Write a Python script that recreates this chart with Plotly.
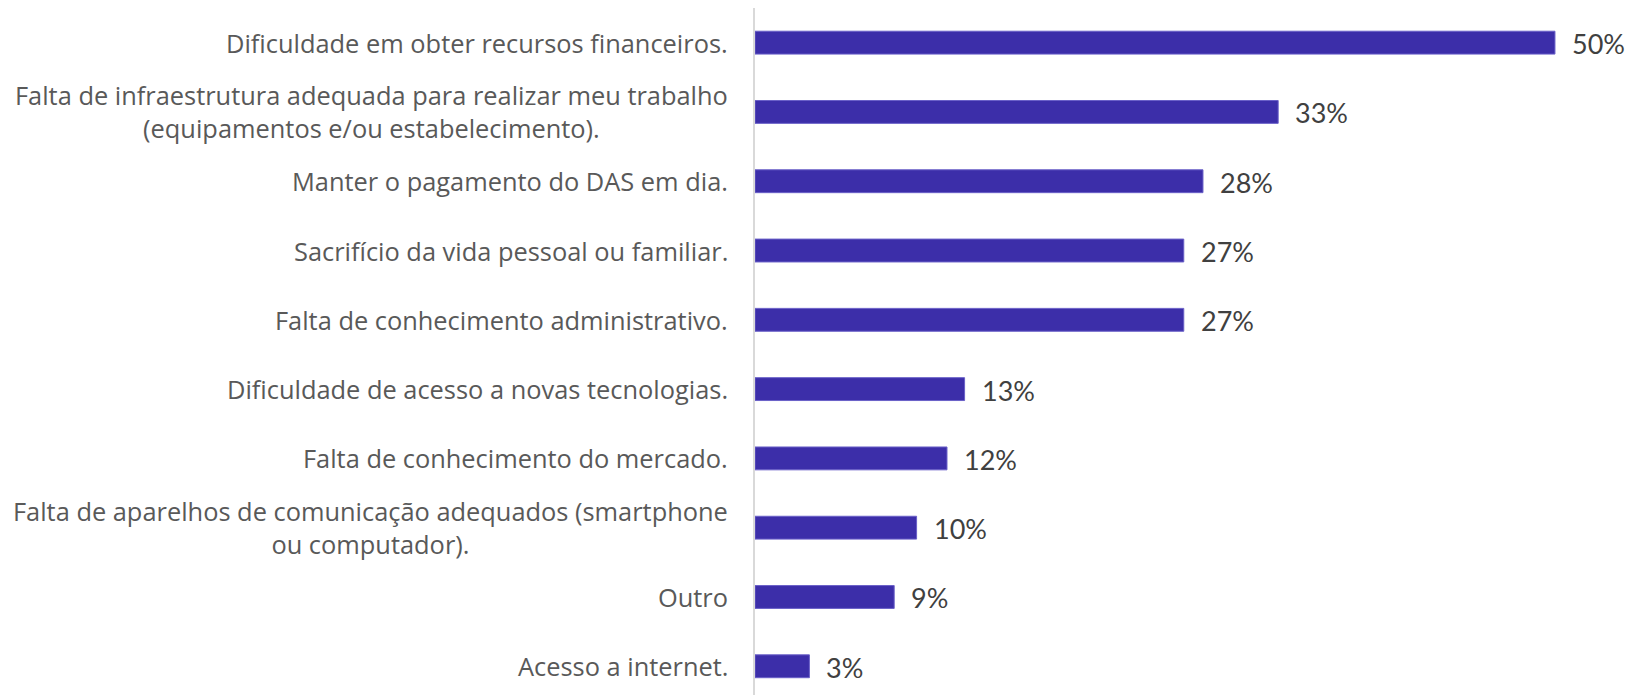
import plotly.graph_objects as go

categories = [
    "Dificuldade em obter recursos financeiros.",
    "Falta de infraestrutura adequada para realizar meu trabalho<br>(equipamentos e/ou estabelecimento).",
    "Manter o pagamento do DAS em dia.",
    "Sacrifício da vida pessoal ou familiar.",
    "Falta de conhecimento administrativo.",
    "Dificuldade de acesso a novas tecnologias.",
    "Falta de conhecimento do mercado.",
    "Falta de aparelhos de comunicação adequados (smartphone<br>ou computador).",
    "Outro",
    "Acesso a internet.",
]
values = [50.0, 32.7, 28.0, 26.8, 26.8, 13.1, 12.0, 10.1, 8.7, 3.4]
value_labels = ["50%", "33%", "28%", "27%", "27%", "13%", "12%", "10%", "9%", "3%"]

ypos = list(range(len(categories)))

fig = go.Figure()
fig.add_trace(go.Bar(
    x=values, y=ypos, orientation="h", width=0.33,
    marker=dict(color="#3C2EA9", line=dict(color="#6A60C8", width=1)),
    hoverinfo="skip",
))

annotations = []
for i, (c, v, t) in enumerate(zip(categories, values, value_labels)):
    annotations.append(dict(
        x=0, xref="x", y=i, yref="y", text=c, showarrow=False,
        xanchor="right", yanchor="middle", align="center", xshift=-25,
        font=dict(family="Open Sans, Arial", size=25.4, color="#595959"),
    ))
    annotations.append(dict(
        x=v, xref="x", y=i, yref="y", text=t, showarrow=False,
        xanchor="left", yanchor="middle", xshift=15, yshift=-1,
        font=dict(family="Lato, Open Sans, Arial", size=27, color="#404040"),
    ))

fig.update_layout(
    width=1634, height=695,
    margin=dict(l=747, r=0, t=0, b=0),
    paper_bgcolor="white", plot_bgcolor="white",
    showlegend=False,
    xaxis=dict(range=[0, 55.44], showgrid=False, zeroline=False, showticklabels=False,
               showline=False),
    yaxis=dict(range=[9.53, -0.5], showgrid=False, zeroline=False, showticklabels=False,
               showline=True, linecolor="#D9D9D9", linewidth=2),
    annotations=annotations,
)
fig.write_html("out.html")
